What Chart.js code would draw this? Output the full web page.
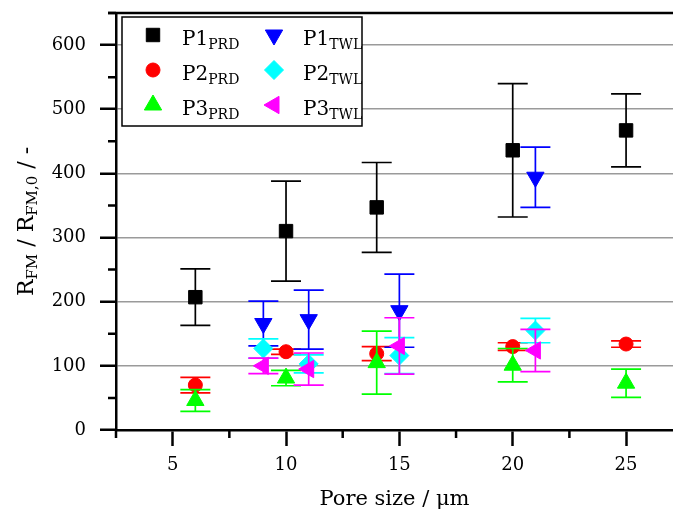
<!DOCTYPE html>
<html>
<head>
<meta charset="utf-8">
<script src="https://cdn.jsdelivr.net/npm/chart.js@4.4.1/dist/chart.umd.min.js"></script>
<style>
  html, body { margin: 0; padding: 0; background: #fff; }
  #wrap { width: 673px; height: 517px; }
</style>
</head>
<body>
<div id="wrap"><canvas id="chart" width="673" height="517"></canvas></div>
<script>
// pore sizes (x) for the two measurement methods
const xPRD = [6, 10, 14, 20, 25];
const xTWL = [9, 11, 15, 21];

// means and +/- errors
const p1PRD = [207, 310, 347, 436, 467];
const p1PRDErr = [44, 78, 70, 104, 57];
const p2PRD = [70, 122, 119, 130, 134];
const p2PRDErr = [12, 4, 11, 6, 5];
const p3PRD = [46, 81, 105, 101, 73];
const p3PRDErr = [17, 12, 49, 26, 22];

const p1TWL = [166, 172, 186, 394];
const p1TWLErr = [35, 46, 57, 47];
const p2TWL = [127, 103, 116, 155];
const p2TWLErr = [15, 14, 28, 19];
const p3TWL = [100, 95, 131, 124];
const p3TWLErr = [12, 25, 44, 33];

const xTicks = [5, 10, 15, 20, 25];
const xMinorTicks = [2.5, 7.5, 12.5, 17.5, 22.5];
const yTicks = [0, 100, 200, 300, 400, 500, 600];
const yMinorTicks = [50, 150, 250, 350, 450, 550, 650];

const FONT = 'DejaVu Serif';
Chart.defaults.font.family = FONT;

const SERIES = [
  { name: 'P1', sub: 'PRD', xs: xPRD, ys: p1PRD, err: p1PRDErr, color: '#000000', style: 'rect', radius: 9.5, rotation: 0 },
  { name: 'P2', sub: 'PRD', xs: xPRD, ys: p2PRD, err: p2PRDErr, color: '#ff0000', style: 'circle', radius: 7, rotation: 0 },
  { name: 'P3', sub: 'PRD', xs: xPRD, ys: p3PRD, err: p3PRDErr, color: '#00ff00', style: 'triangle', radius: 10, rotation: 0 },
  { name: 'P1', sub: 'TWL', xs: xTWL, ys: p1TWL, err: p1TWLErr, color: '#0000ff', style: 'triangle', radius: 10, rotation: 180 },
  { name: 'P2', sub: 'TWL', xs: xTWL, ys: p2TWL, err: p2TWLErr, color: '#00ffff', style: 'rectRot', radius: 9.5, rotation: 0 },
  { name: 'P3', sub: 'TWL', xs: xTWL, ys: p3TWL, err: p3TWLErr, color: '#ff00ff', style: 'triangle', radius: 10, rotation: 270 },
];

const CAP = 15;

// error bars drawn just before each dataset's markers
const errorBars = {
  id: 'errorBars',
  beforeDatasetDraw(chart, args) {
    const ds = chart.data.datasets[args.index];
    const { x, y } = chart.scales;
    const ctx = chart.ctx;
    ctx.save();
    ctx.strokeStyle = ds.borderColor;
    ctx.lineWidth = 1.7;
    ds.data.forEach((p, i) => {
      const px = x.getPixelForValue(p.x);
      const top = y.getPixelForValue(p.y + ds.errors[i]);
      const bot = y.getPixelForValue(p.y - ds.errors[i]);
      ctx.beginPath();
      ctx.moveTo(px, top); ctx.lineTo(px, bot);
      ctx.moveTo(px - CAP, top); ctx.lineTo(px + CAP, top);
      ctx.moveTo(px - CAP, bot); ctx.lineTo(px + CAP, bot);
      ctx.stroke();
    });
    ctx.restore();
  }
};

function drawSubText(ctx, x, y, main, sub, size, subSize, drop) {
  ctx.font = size + 'px "' + FONT + '"';
  ctx.fillText(main, x, y);
  const w = ctx.measureText(main).width;
  ctx.font = subSize + 'px "' + FONT + '"';
  ctx.fillText(sub, x + w, y + drop);
  return w + ctx.measureText(sub).width;
}

const frame = {
  id: 'frame',
  afterDraw(chart) {
    const ctx = chart.ctx;
    const area = chart.chartArea;
    const { x, y } = chart.scales;
    ctx.save();
    ctx.strokeStyle = '#000';
    ctx.lineWidth = 2.5;
    // top frame line
    ctx.beginPath();
    ctx.moveTo(area.left - 8, area.top);
    ctx.lineTo(area.right, area.top);
    ctx.stroke();
    // minor ticks
    ctx.beginPath();
    xMinorTicks.forEach(v => {
      const px = x.getPixelForValue(v);
      ctx.moveTo(px, area.bottom);
      ctx.lineTo(px, area.bottom + 8);
    });
    yMinorTicks.forEach(v => {
      const py = y.getPixelForValue(v);
      ctx.moveTo(area.left, py);
      ctx.lineTo(area.left - 8, py);
    });
    ctx.stroke();

    // legend
    const lx = area.left + 6, ly = area.top + 4, lw = 240, lh = 109;
    ctx.fillStyle = '#fff';
    ctx.fillRect(lx, ly, lw, lh);
    ctx.lineWidth = 1.5;
    ctx.strokeRect(lx, ly, lw, lh);
    SERIES.forEach((s, i) => {
      const col = Math.floor(i / 3), row = i % 3;
      const mx = lx + 31 + col * 121;
      const my = ly + 18 + row * 35;
      ctx.fillStyle = s.color;
      ctx.strokeStyle = s.color;
      ctx.lineWidth = 1;
      Chart.helpers.drawPoint(ctx, { pointStyle: s.style, radius: s.radius, rotation: s.rotation, borderWidth: 1 }, mx, my);
      ctx.fillStyle = '#000';
      ctx.textBaseline = 'alphabetic';
      ctx.textAlign = 'left';
      drawSubText(ctx, mx + 29, my + 9.5, s.name, s.sub, 20, 14, 4);
    });

    // y axis title, rotated
    ctx.fillStyle = '#000';
    ctx.textBaseline = 'alphabetic';
    ctx.textAlign = 'left';
    const parts = [['R', 'FM'], [' / R', 'FM,0'], [' / -', '']];
    let total = 0;
    parts.forEach(([m, sb]) => {
      ctx.font = '22px "' + FONT + '"';
      total += ctx.measureText(m).width;
      ctx.font = '15px "' + FONT + '"';
      total += ctx.measureText(sb).width;
    });
    ctx.translate(33, (area.top + area.bottom) / 2);
    ctx.rotate(-Math.PI / 2);
    let cx = -total / 2;
    parts.forEach(([m, sb]) => {
      cx += drawSubText(ctx, cx, 0, m, sb, 22, 15, 4);
    });
    ctx.restore();
  }
};

const datasets = SERIES.map((s, i) => ({
  label: s.name + s.sub,
  data: s.xs.map((xv, j) => ({ x: xv, y: s.ys[j] })),
  errors: s.err,
  backgroundColor: s.color,
  borderColor: s.color,
  pointStyle: s.style,
  pointRadius: s.radius,
  pointRotation: s.rotation,
  pointBorderWidth: 1,
  showLine: false,
  order: SERIES.length - i,
  clip: false,
}));

function noPad(s) {
  s.paddingTop = 0;
  s.paddingBottom = 0;
  s.paddingLeft = 0;
  s.paddingRight = 0;
}

new Chart(document.getElementById('chart'), {
  type: 'scatter',
  data: { datasets },
  options: {
    responsive: false,
    animation: false,
    events: [],
    layout: { autoPadding: false, padding: { top: 13, right: 0, left: 0, bottom: 0 } },
    plugins: { legend: { display: false }, tooltip: { enabled: false } },
    scales: {
      x: {
        type: 'linear',
        min: 2.5,
        max: 27.07,
        afterBuildTicks: s => { s.ticks = xTicks.map(v => ({ value: v })); },
        afterFit: s => { s.height = 87; noPad(s); },
        grid: { drawOnChartArea: false, color: '#000', tickLength: 16, tickWidth: 2.5, tickColor: '#000' },
        border: { color: '#000', width: 2.5 },
        ticks: { color: '#000', font: { size: 18 }, padding: 9, maxRotation: 0 },
        title: { display: true, text: 'Pore size / μm', color: '#000', font: { size: 21 }, padding: { top: 0, bottom: 5 } },
      },
      y: {
        min: 0,
        max: 650,
        afterBuildTicks: s => { s.ticks = yTicks.map(v => ({ value: v })); },
        afterFit: s => { s.width = 116; noPad(s); },
        grid: {
          color: c => (c.tick && c.tick.value === 0 ? 'rgba(0,0,0,0)' : '#9a9a9a'),
          lineWidth: 1.5,
          tickColor: '#000',
          tickWidth: 2.5,
          tickLength: 16,
        },
        border: { color: '#000', width: 2.5 },
        ticks: { color: '#000', font: { size: 18 }, padding: 14 },
      },
    },
  },
  plugins: [errorBars, frame],
});
</script>
</body>
</html>
